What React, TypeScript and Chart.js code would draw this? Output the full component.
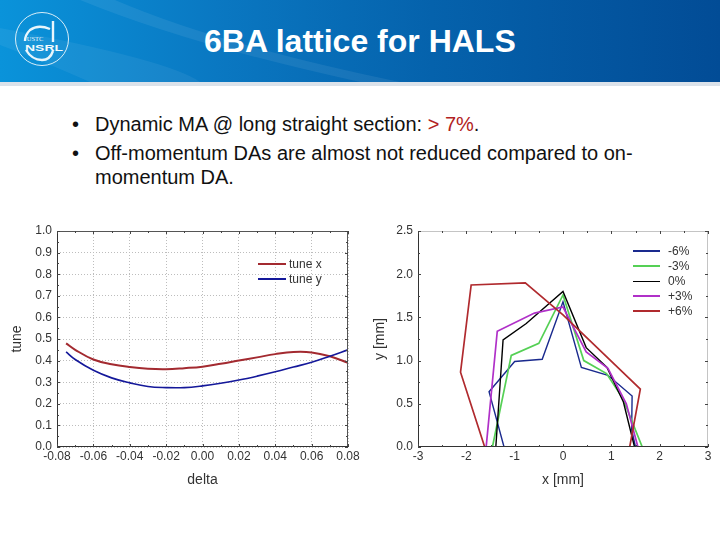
import { useEffect, useRef } from "react";
import { Chart, registerables } from "chart.js";
Chart.register(...registerables);

const FONT = "'Liberation Sans', Arial, sans-serif";

// tune vs delta
const deltaValues = [-0.075, -0.07, -0.06, -0.05, -0.04, -0.03, -0.02, -0.01, 0, 0.01, 0.02, 0.03, 0.04, 0.05, 0.06, 0.07, 0.08];
const tuneX = [0.48, 0.45, 0.405, 0.383, 0.37, 0.362, 0.36, 0.365, 0.372, 0.385, 0.4, 0.415, 0.43, 0.44, 0.438, 0.42, 0.39];
const tuneY = [0.44, 0.405, 0.355, 0.32, 0.297, 0.28, 0.275, 0.275, 0.283, 0.295, 0.31, 0.328, 0.348, 0.37, 0.392, 0.42, 0.45];
const deltaTicks = [-0.08, -0.06, -0.04, -0.02, 0, 0.02, 0.04, 0.06, 0.08];
const tuneTicks = [0, 0.1, 0.2, 0.3, 0.4, 0.5, 0.6, 0.7, 0.8, 0.9, 1];

// dynamic aperture outlines
const m6x = [-1.22, -1.53, -1.0, -0.43, 0, 0.38, 0.93, 1.43, 1.42, 1.5];
const m6y = [0, 0.64, 0.99, 1.015, 1.68, 0.92, 0.83, 0.59, 0.2, 0];
const m3x = [-1.46, -1.07, -0.5, 0, 0.43, 0.9, 1.24, 1.64];
const m3y = [0, 1.06, 1.2, 1.76, 1.0, 0.85, 0.56, 0];
const z0x = [-1.39, -1.24, -0.76, 0, 0.48, 0.91, 1.25, 1.48];
const z0y = [0, 1.24, 1.43, 1.8, 1.15, 0.92, 0.52, 0];
const p3x = [-1.59, -1.36, -0.59, 0, 0.48, 0.93, 1.31, 1.55];
const p3y = [0, 1.34, 1.55, 1.62, 1.1, 0.91, 0.5, 0];
const p6x = [-1.62, -2.12, -1.9, -0.78, 0, 1.6, 1.38];
const p6y = [0, 0.865, 1.875, 1.9, 1.53, 0.67, 0];
const daXTicks = [-3, -2, -1, 0, 1, 2, 3];
const daYTicks = [0, 0.5, 1, 1.5, 2, 2.5];

const tuneColors = ["#a32a30", "#14189a"];
const tuneNames = ["tune x", "tune y"];
const daNames = ["-6%", "-3%", "0%", "+3%", "+6%"];
const daColors = ["#1a2a8e", "#55d055", "#000000", "#b030c8", "#b02a2e"];

const pairs = (xs: number[], ys: number[]) => xs.map((x, i) => ({ x, y: ys[i] }));

// frame plus inward ticks, major and half-step minor, on all four sides
const framePlugin = {
  id: "frame",
  afterDatasetsDraw(chart: any, _a: any, opts: any) {
    const { ctx, chartArea: a, scales } = chart;
    const midpoints = (s: any) => {
      const vals = s.ticks.map((t: any) => t.value);
      const mids = vals.slice(1).map((v: number, i: number) => (v + vals[i]) / 2);
      return { vals, mids };
    };
    ctx.save();
    ctx.lineWidth = 1;
    ctx.strokeStyle = opts.farColor;
    ctx.beginPath();
    ctx.moveTo(a.left, a.top + 0.5);
    ctx.lineTo(a.right - 0.5, a.top + 0.5);
    ctx.lineTo(a.right - 0.5, a.bottom);
    ctx.stroke();
    ctx.strokeStyle = "#333333";
    ctx.beginPath();
    ctx.moveTo(a.left + 0.5, a.top);
    ctx.lineTo(a.left + 0.5, a.bottom - 0.5);
    ctx.lineTo(a.right, a.bottom - 0.5);
    ctx.stroke();
    const x = midpoints(scales.x);
    const y = midpoints(scales.y);
    const vert = (v: number, len: number) => {
      const p = Math.round(scales.x.getPixelForValue(v)) + 0.5;
      ctx.moveTo(p, a.bottom);
      ctx.lineTo(p, a.bottom - len);
      ctx.moveTo(p, a.top);
      ctx.lineTo(p, a.top + len);
    };
    const horiz = (v: number, len: number) => {
      const p = Math.round(scales.y.getPixelForValue(v)) + 0.5;
      ctx.moveTo(a.left, p);
      ctx.lineTo(a.left + len, p);
      ctx.moveTo(a.right, p);
      ctx.lineTo(a.right - len, p);
    };
    ctx.strokeStyle = "#444444";
    ctx.beginPath();
    x.vals.forEach((v: number) => vert(v, 3));
    x.mids.forEach((v: number) => vert(v, 2));
    y.vals.forEach((v: number) => horiz(v, 3));
    y.mids.forEach((v: number) => horiz(v, 2));
    ctx.stroke();
    ctx.restore();
  },
};

function makeOptions(o: {
  xMin: number; xMax: number; yMin: number; yMax: number;
  xTicks: number[]; yTicks: number[];
  xLabel: (v: number) => string; yLabel: (v: number) => string;
  xTitle: string; yTitle: string;
  yWidth: number; rightPad: number; grid: boolean; farColor: string; titleLeft: number;
}): any {
  const grid = o.grid
    ? { display: true, color: "#bdbdbd", lineWidth: 1, drawTicks: false }
    : { display: false, drawTicks: false };
  return {
    animation: false,
    responsive: false,
    layout: { padding: { top: 21, right: o.rightPad, left: 0, bottom: 0 } },
    plugins: { legend: { display: false }, tooltip: { enabled: false }, frame: { farColor: o.farColor } },
    elements: { point: { radius: 0 } },
    scales: {
      x: {
        type: "linear", min: o.xMin, max: o.xMax,
        grid,
        border: { display: false, dash: o.grid ? [1, 2] : undefined },
        afterBuildTicks: (s: any) => { s.ticks = o.xTicks.map((value) => ({ value })); },
        afterFit: (s: any) => { s.height = 53; },
        ticks: {
          maxRotation: 0, autoSkip: false, padding: 2, color: "#333333",
          font: { family: FONT, size: 12 }, callback: (v: any) => o.xLabel(Number(v)),
        },
        title: { display: true, text: o.xTitle, color: "#333333", font: { family: FONT, size: 14 }, padding: { top: 0, bottom: 11 } },
      },
      y: {
        type: "linear", min: o.yMin, max: o.yMax,
        grid,
        border: { display: false, dash: o.grid ? [1, 2] : undefined },
        afterBuildTicks: (s: any) => { s.ticks = o.yTicks.map((value) => ({ value })); },
        afterFit: (s: any) => { s.width = o.yWidth; },
        ticks: {
          autoSkip: false, padding: 5, color: "#333333",
          font: { family: FONT, size: 12 }, callback: (v: any) => o.yLabel(Number(v)),
        },
        title: { display: true, text: o.yTitle, color: "#333333", font: { family: FONT, size: 14 }, padding: { top: o.titleLeft, bottom: 0 } },
      },
    },
  };
}

function TuneChart() {
  const ref = useRef<HTMLCanvasElement>(null);
  useEffect(() => {
    if (!ref.current) return;
    const chart = new Chart(ref.current, {
      type: "scatter",
      data: {
        datasets: [
          { label: tuneNames[0], data: pairs(deltaValues, tuneX), borderColor: tuneColors[0], borderWidth: 2, showLine: true, tension: 0.4, order: 1 },
          { label: tuneNames[1], data: pairs(deltaValues, tuneY), borderColor: tuneColors[1], borderWidth: 1.6, showLine: true, tension: 0.4, order: 0 },
        ],
      },
      options: makeOptions({
        xMin: -0.08, xMax: 0.08, yMin: 0, yMax: 1,
        xTicks: deltaTicks, yTicks: tuneTicks,
        xLabel: (v) => v.toFixed(2), yLabel: (v) => v.toFixed(1),
        xTitle: "delta", yTitle: "tune",
        yWidth: 57, rightPad: 32, grid: true, farColor: "#555555", titleLeft: 9,
      }),
      plugins: [framePlugin],
    } as any);
    return () => chart.destroy();
  }, []);
  return <canvas ref={ref} width={380} height={290} style={{ position: "absolute", left: 0, top: 210, width: 380, height: 290 }} />;
}

function ApertureChart() {
  const ref = useRef<HTMLCanvasElement>(null);
  useEffect(() => {
    if (!ref.current) return;
    const xs = [m6x, m3x, z0x, p3x, p6x];
    const ys = [m6y, m3y, z0y, p3y, p6y];
    const chart = new Chart(ref.current, {
      type: "scatter",
      data: {
        datasets: daNames.map((label, i) => ({
          label,
          data: pairs(xs[i], ys[i]),
          borderColor: daColors[i],
          borderWidth: i === 2 || i === 0 ? 1.4 : 1.7,
          showLine: true,
          order: daNames.length - i,
        })),
      },
      options: makeOptions({
        xMin: -3, xMax: 3, yMin: 0, yMax: 2.5,
        xTicks: daXTicks, yTicks: daYTicks,
        xLabel: (v) => String(v), yLabel: (v) => v.toFixed(1),
        xTitle: "x [mm]", yTitle: "y [mm]",
        yWidth: 48, rightPad: 12, grid: false, farColor: "#c4c4c4", titleLeft: 2,
      }),
      plugins: [framePlugin],
    } as any);
    return () => chart.destroy();
  }, []);
  return <canvas ref={ref} width={350} height={290} style={{ position: "absolute", left: 370, top: 210, width: 350, height: 290 }} />;
}

function LegendRow({ left, top, color, label, width, weight, gap }: { left: number; top: number; color: string; label: string; width: number; weight: number; gap: number }) {
  return (
    <div style={{ position: "absolute", left, top: top - 8, height: 16, display: "flex", alignItems: "center", font: `12px ${FONT}`, color: "#333333" }}>
      <span style={{ display: "inline-block", width, height: weight, background: color, marginRight: gap }} />
      <span>{label}</span>
    </div>
  );
}

function Header() {
  return (
    <div style={{ position: "absolute", left: 0, top: 0, width: 720, height: 82, overflow: "hidden", background: "linear-gradient(90deg, #0a93da 0%, #0a78c2 30%, #0562ac 60%, #024c96 100%)" }}>
      <svg width={720} height={82} style={{ position: "absolute", left: 0, top: 0 }}>
        <path d="M80 0 L115 0 Q220 45 400 82 L360 82 Q190 45 80 0 Z" fill="#ffffff" opacity={0.07} />
        <path d="M0 28 Q170 60 200 82 L90 82 Q40 60 0 45 Z" fill="#ffffff" opacity={0.06} />
        <ellipse cx={42} cy={39} rx={26.5} ry={26.5} fill="none" stroke="#d8eef8" strokeWidth={1} />
        <path d="M53 21 L53 42 M50 29 Q38 24 30 30 Q25 35 25 41 M26 50 Q32 60 42 60 Q50 60 53 51" fill="none" stroke="#e8f6fc" strokeWidth={2.4} />
        <text x={35} y={41} textAnchor="middle" fontFamily="'Liberation Serif', serif" fontSize={6.5} fill="#e8f6fc">USTC</text>
        <text x={25} y={50.5} textLength={38} lengthAdjust="spacingAndGlyphs" fontFamily={FONT} fontWeight="bold" fontSize={9.5} fill="#f2fafd">NSRL</text>
      </svg>
      <div style={{ position: "absolute", left: 204, top: 23, whiteSpace: "nowrap", font: `bold 32px ${FONT}`, color: "#ffffff" }}>6BA lattice for HALS</div>
    </div>
  );
}

function Bullets() {
  const line = { position: "absolute", left: 95, whiteSpace: "nowrap", font: `20px ${FONT}`, color: "#111111" } as const;
  const dot = { position: "absolute", left: 72, font: `20px ${FONT}`, color: "#111111" } as const;
  return (
    <>
      <div style={{ ...dot, top: 113 }}>•</div>
      <div style={{ ...line, top: 113 }}>Dynamic MA @ long straight section: <span style={{ color: "#b22222" }}>&gt; 7%</span>.</div>
      <div style={{ ...dot, top: 142 }}>•</div>
      <div style={{ ...line, top: 142 }}>Off-momentum DAs are almost not reduced compared to on-</div>
      <div style={{ ...line, top: 166 }}>momentum DA.</div>
    </>
  );
}

export default function App() {
  return (
    <div style={{ position: "absolute", left: 0, top: 0, width: 720, height: 540, background: "#ffffff", overflow: "hidden" }}>
      <Header />
      <div style={{ position: "absolute", left: 0, top: 82, width: 720, height: 4, background: "#dbe2ea" }} />
      <Bullets />
      <TuneChart />
      <ApertureChart />
      {tuneNames.map((n, i) => (
        <LegendRow key={n} left={258} top={264 + i * 15} color={tuneColors[i]} label={n} width={28} weight={2} gap={3} />
      ))}
      {daNames.map((n, i) => (
        <LegendRow key={n} left={633} top={251 + i * 15} color={daColors[i]} label={n} width={27} weight={i === 2 ? 1 : 2} gap={8} />
      ))}
    </div>
  );
}
